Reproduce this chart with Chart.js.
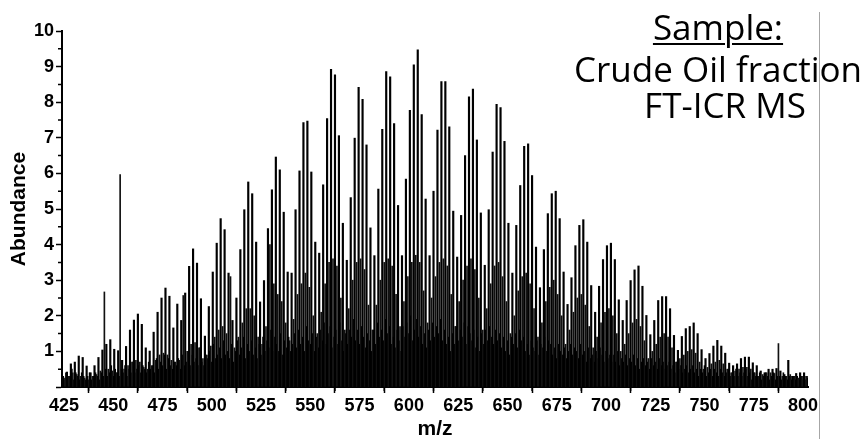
<!DOCTYPE html>
<html>
<head>
<meta charset="utf-8">
<title>Crude oil FT-ICR MS spectrum</title>
<script src="https://cdn.jsdelivr.net/npm/chart.js@4.4.1/dist/chart.umd.min.js"></script>
<style>
  body { margin: 0; background: #fff; }
  #wrap { position: relative; width: 862px; height: 439px; overflow: hidden; }
  .note { position: absolute; font-family: "Open Sans", sans-serif; font-size: 35px; color: #000;
          white-space: nowrap; line-height: 1; transform: translateX(-50%); }
  #n1 { text-decoration: underline; text-decoration-thickness: 2px; text-underline-offset: 3px; }
  #sep { position: absolute; left: 819px; top: 12px; width: 1px; height: 427px; background: #a6a6a6; }
</style>
</head>
<body>
<div id="wrap">
  <canvas id="myChart" width="862" height="439"></canvas>
  <div class="note" id="n1" style="left:718px; top:9px;">Sample:</div>
  <div class="note" id="n2" style="left:718px; top:51px;">Crude Oil fraction</div>
  <div class="note" id="n3" style="left:725px; top:87px;">FT-ICR MS</div>
  <div id="sep"></div>
</div>
<script>
// main peaks, every 2 m/z starting at 424.5
var majorStart = 424.5;
var majorPeaks = [
  0.3, 0.42, 0.65, 0.7, 0.87, 0.83, 0.59, 0.4, 0.6, 0.83,      // 424.5
  1.04, 1.2, 1.33, 1.06, 1.02, 0.75, 1.14, 1.6, 1.88, 2.05,    // 444.5
  1.76, 1.1, 1.01, 1.54, 2.1, 2.5, 2.78, 2.55, 1.66, 2.33,     // 464.5
  1.87, 2.64, 3.39, 3.88, 3.48, 2.48, 1.43, 2.26, 3.23, 4.04,  // 484.5
  4.73, 4.42, 3.2, 1.87, 2.5, 3.86, 4.98, 5.76, 5.43, 4.07,    // 504.5
  2.39, 2.99, 4.45, 5.54, 6.46, 6.1, 4.91, 3.23, 3.2, 4.98,    // 524.5
  6.07, 7.43, 7.47, 6.04, 4.07, 3.76, 5.68, 7.54, 8.92, 8.77,  // 544.5
  7.06, 4.6, 3.56, 5.32, 6.99, 8.42, 8.08, 6.8, 4.47, 3.69,    // 564.5
  5.56, 7.24, 8.86, 8.71, 7.4, 5.1, 3.69, 5.84, 7.77, 9.05,    // 584.5
  9.47, 7.65, 5.28, 3.69, 5.5, 7.22, 8.58, 8.58, 7.31, 4.94,   // 604.5
  3.65, 4.82, 6.5, 8.15, 8.37, 6.94, 4.89, 3.42, 4.98, 6.6,    // 624.5
  7.94, 7.85, 6.9, 4.6, 3.2, 4.54, 5.66, 6.76, 6.83, 5.94,     // 644.5
  3.93, 2.79, 3.86, 4.87, 5.43, 5.5, 4.73, 3.23, 2.32, 3.07,   // 664.5
  3.97, 4.54, 4.7, 4.07, 2.85, 2.1, 2.83, 3.58, 3.97, 4.04,    // 684.5
  3.58, 2.45, 1.87, 2.43, 2.99, 3.29, 3.4, 2.83, 2.01, 1.47,   // 704.5
  1.87, 2.43, 2.54, 2.54, 2.2, 1.45, 1.03, 1.42, 1.64, 1.7,    // 724.5
  1.8, 1.5, 1.05, 0.8, 0.94, 1.15, 1.31, 1.15, 0.95, 0.67,     // 744.5
  0.6, 0.65, 0.8, 0.84, 0.84, 0.68, 0.6, 0.45, 0.4, 0.5,       // 764.5
  0.5, 0.52, 0.45, 0.35, 0.75, 0.3, 0.38, 0.4, 0.4, 0.25,      // 784.5
  0.15                                                         // 804.5
];

// in-between peaks, every 2 m/z starting at 425.5
var minorStart = 425.5;
var minorPeaks = [
  0.25, 0.3, 0.4, 0.35, 0.3, 0.25, 0.2, 0.3, 0.35, 0.45,       // 425.5
  2.67, 0.5, 0.45, 0.4, 5.97, 0.5, 0.6, 0.7, 0.75, 0.7,        // 445.5
  0.55, 0.5, 0.6, 0.75, 0.9, 0.95, 0.9, 0.75, 0.7, 0.75,       // 465.5
  2.57, 1.0, 1.2, 1.25, 1.1, 0.8, 0.9, 1.15, 1.4, 1.6,         // 485.5
  1.7, 1.5, 3.1, 1.1, 1.4, 1.8, 2.2, 2.2, 2.0, 1.4,            // 505.5
  1.2, 1.7, 4.0, 2.9, 2.6, 2.4, 1.8, 1.3, 1.9, 2.6,            // 525.5
  2.9, 3.2, 2.8, 2.0, 1.5, 2.1, 2.9, 3.5, 3.6, 3.4,            // 545.5
  2.5, 1.6, 2.2, 3.0, 3.5, 3.6, 3.3, 2.3, 1.6, 2.3,            // 565.5
  3.0, 3.5, 3.6, 3.4, 2.6, 1.7, 2.4, 3.1, 3.5, 3.7,            // 585.5
  3.5, 2.7, 1.8, 2.5, 3.1, 3.5, 3.6, 3.4, 2.6, 1.7,            // 605.5
  2.4, 3.0, 3.4, 3.6, 3.3, 2.5, 1.6, 2.2, 2.9, 3.4,            // 625.5
  3.5, 3.1, 2.4, 1.5, 2.0, 2.7, 3.1, 3.2, 2.9, 2.2,            // 645.5
  1.4, 1.8, 2.4, 2.8, 3.0, 2.6, 2.0, 1.2, 1.6, 2.1,            // 665.5
  2.5, 2.6, 2.3, 1.7, 1.1, 1.4, 1.8, 2.1, 2.2, 2.0,            // 685.5
  1.5, 1.0, 1.2, 1.5, 1.8, 1.9, 1.7, 1.3, 0.8, 1.0,            // 705.5
  1.2, 1.4, 1.5, 1.4, 1.1, 0.7, 0.8, 0.9, 1.0, 1.05,           // 725.5
  0.95, 0.7, 0.5, 0.55, 0.65, 0.7, 0.75, 0.65, 0.5, 0.4,       // 745.5
  0.45, 0.5, 0.55, 0.55, 0.5, 0.4, 0.3, 0.35, 0.4, 0.4,        // 765.5
  0.38, 1.22, 0.3, 0.3, 0.35, 0.3, 0.25, 0.3, 0.3, 0.2         // 785.5
];

// low level peaks, every 1 m/z starting at 424
var grassStart = 424;
var grassPeaks = [
  0.3,0.2,0.4,0.3,0.3,0.5,0.2,0.4,0.3,0.2,0.4,0.3,0.2,0.3,0.4,0.2,0.3,0.4,0.3,0.2, // 424
  0.4,0.3,0.5,0.3,0.4,0.6,0.3,0.5,0.4,0.3,0.5,0.4,0.6,0.3,0.5,0.4,0.7,0.4,0.5,0.6, // 444
  0.4,0.6,0.5,0.4,0.7,0.5,0.6,0.4,0.8,0.5,0.7,0.6,0.9,0.5,0.8,0.6,0.5,0.7,0.6,0.8, // 464
  0.5,0.9,0.6,0.7,1.0,0.6,0.9,0.7,0.8,0.6,1.1,0.7,0.6,0.9,0.8,1.0,0.7,1.2,0.8,0.9, // 484
  1.1,0.8,1.3,0.9,1.0,0.8,1.2,0.7,1.0,1.3,0.9,1.1,1.4,0.8,1.2,1.0,1.3,0.9,1.1,0.8, // 504
  1.2,0.9,1.4,1.0,1.3,1.1,1.6,1.0,1.4,1.2,1.0,1.5,0.9,1.3,1.1,1.4,1.0,1.2,1.5,1.1, // 524
  1.6,1.2,1.4,1.0,1.7,1.3,1.2,1.5,1.0,1.4,1.1,1.6,1.3,1.8,1.2,1.5,1.7,1.1,1.4,1.6, // 544
  1.2,1.8,1.3,1.0,1.5,1.2,1.6,1.4,1.9,1.3,1.6,1.2,1.7,1.4,1.1,1.5,1.3,1.0,1.6,1.2, // 564
  1.8,1.4,1.6,1.3,1.9,1.5,1.7,1.2,1.4,1.1,1.6,1.3,1.0,1.7,1.4,1.8,1.5,2.0,1.3,1.6, // 584
  1.9,1.4,1.7,1.2,1.5,1.1,1.6,1.3,1.8,1.4,1.7,1.5,1.9,1.3,1.6,1.2,1.4,1.0,1.5,1.2, // 604
  1.7,1.3,1.6,1.4,1.8,1.2,1.7,1.5,1.3,1.6,1.1,1.4,1.0,1.5,1.2,1.6,1.3,1.7,1.4,1.2, // 624
  1.6,1.3,1.5,1.1,1.4,1.0,1.3,0.9,1.4,1.2,1.5,1.1,1.6,1.3,1.4,1.0,1.2,0.9,1.3,1.1, // 644
  1.0,1.3,0.9,1.2,1.1,1.4,1.0,1.3,1.2,0.9,1.1,0.8,1.2,1.0,0.9,1.1,0.8,1.0,1.2,0.9, // 664
  1.1,1.0,0.8,1.2,0.9,1.0,0.7,1.1,0.8,0.9,0.7,1.0,0.8,1.1,0.9,0.7,1.0,0.8,0.9,0.7, // 684
  0.9,0.7,1.0,0.6,0.8,0.7,0.9,0.6,0.8,0.7,0.9,0.6,0.8,0.5,0.7,0.8,0.6,0.7,0.5,0.8, // 704
  0.6,0.7,0.5,0.8,0.6,0.7,0.5,0.6,0.7,0.5,0.6,0.4,0.7,0.5,0.6,0.4,0.5,0.6,0.4,0.5, // 724
  0.6,0.4,0.5,0.3,0.5,0.4,0.6,0.3,0.4,0.5,0.3,0.5,0.4,0.3,0.5,0.4,0.3,0.4,0.5,0.3, // 744
  0.4,0.3,0.5,0.3,0.4,0.3,0.4,0.5,0.3,0.4,0.2,0.4,0.3,0.3,0.4,0.2,0.3,0.4,0.3,0.2, // 764
  0.3,0.4,0.2,0.3,0.3,0.2,0.4,0.3,0.2,0.3,0.2,0.3,0.2,0.3,0.2,0.3,0.2,0.2,0.3,0.2, // 784
  0.2,0.1                                                                          // 804
];

// axis ticks
var xTickStep = 25;
var yTickStep = 1;

function toPoints(start, step, vals) {
    return vals.map(function(v, i){ return {x: start + i * step, y: v}; });
}

// small half-step tick marks on both axes
var minorTicks = {
    id: 'minorTicks',
    afterDraw: function(chart){
        var ctx = chart.ctx, x = chart.scales.x, y = chart.scales.y;
        ctx.save();
        ctx.strokeStyle = '#000';
        ctx.lineWidth = 1.5;
        ctx.beginPath();
        x.ticks.forEach(function(t){
            var v = t.value + xTickStep / 2;
            if (v < x.max) {
                var px = x.getPixelForValue(v);
                ctx.moveTo(px, y.bottom); ctx.lineTo(px, y.bottom + 4);
            }
        });
        y.ticks.forEach(function(t){
            var v = t.value + yTickStep / 2;
            if (v < y.max) {
                var py = y.getPixelForValue(v);
                ctx.moveTo(x.left, py); ctx.lineTo(x.left - 4, py);
            }
        });
        ctx.stroke();
        ctx.restore();
    }
};

document.addEventListener("DOMContentLoaded", function(){
    var ctx = document.getElementById('myChart').getContext('2d');
    var tickFont = {family: 'Liberation Sans, Arial, sans-serif', size: 18, weight: 'bold'};
    var titleFont = {family: 'Liberation Sans, Arial, sans-serif', size: 21, weight: 'bold'};
    var chart = new Chart(ctx, {
        type: 'bar',
        data: {
            datasets: [
                {label: 'main', data: toPoints(majorStart, 2, majorPeaks), backgroundColor: '#000', barThickness: 1.5},
                {label: 'between', data: toPoints(minorStart, 2, minorPeaks), backgroundColor: '#111'},
                {label: 'base', data: toPoints(grassStart, 1, grassPeaks), backgroundColor: '#000'}
            ]
        },
        options: {
            responsive: false,
            animation: false,
            datasets: {bar: {barThickness: 1, grouped: false, borderWidth: 0}},
            layout: {padding: {top: 31, right: 54, left: 0, bottom: 0}},
            plugins: {legend: {display: false}, tooltip: {enabled: false}},
            scales: {
                x: {
                    type: 'linear', min: 424, max: 802.5, offset: false,
                    afterFit: function(s){ s.height = 52; },
                    border: {display: true, color: '#000', width: 2},
                    grid: {display: true, drawOnChartArea: false, drawTicks: true, tickLength: 6, tickWidth: 1.5, tickColor: '#000'},
                    ticks: {stepSize: xTickStep, includeBounds: false, autoSkip: false, maxRotation: 0, color: '#000', font: tickFont, padding: 2},
                    title: {display: true, text: 'm/z', color: '#000', font: titleFont, padding: {top: 0, bottom: -3}}
                },
                y: {
                    min: 0, max: 10,
                    afterFit: function(s){ s.width = 62; },
                    border: {display: true, color: '#000', width: 2},
                    grid: {display: true, drawOnChartArea: false, drawTicks: true, tickLength: 6, tickWidth: 1.5, tickColor: '#000'},
                    ticks: {stepSize: yTickStep, color: '#000', font: tickFont, padding: 2,
                        callback: function(v){ return v === 0 ? '' : v; }},
                    title: {display: true, text: 'Abundance', color: '#000', font: titleFont, padding: {top: 7, bottom: 0}}
                }
            }
        },
        plugins: [minorTicks]
    });
});
</script>
</body>
</html>
